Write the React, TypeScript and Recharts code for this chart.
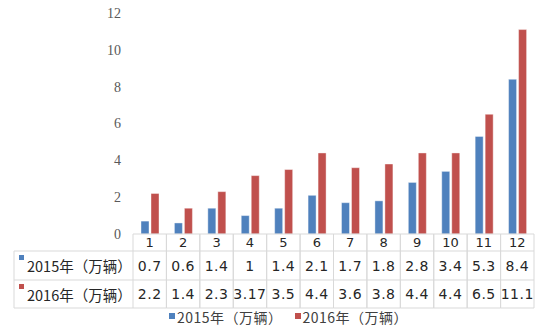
import { Bar, BarChart, Legend, XAxis, YAxis } from "recharts";

const MONTHS = ["1", "2", "3", "4", "5", "6", "7", "8", "9", "10", "11", "12"];
const SALES_2015 = [0.7, 0.6, 1.4, 1, 1.4, 2.1, 1.7, 1.8, 2.8, 3.4, 5.3, 8.4];
const SALES_2016 = [2.2, 1.4, 2.3, 3.17, 3.5, 4.4, 3.6, 3.8, 4.4, 4.4, 6.5, 11.1];
const Y_TICKS = [0, 2, 4, 6, 8, 10, 12];
const SERIES = [
  { key: "s2015", name: "2015年（万辆）", color: "#4F81BD", values: SALES_2015 },
  { key: "s2016", name: "2016年（万辆）", color: "#C0504D", values: SALES_2016 },
];

const W = 539;
const H = 326;
const PLOT_LEFT = 133;
const PLOT_RIGHT = 5;
const BAND = (W - PLOT_LEFT - PLOT_RIGHT) / MONTHS.length;
const TABLE_LEFT = 14;
const ROW_Y = [0, 17, 46, 74]; // row boundaries below the axis
const GRID = "#d9d9d9";
const TEXT = "#262626";
const TABLE_FONT = "'DejaVu Sans', sans-serif";
const CJK_FONT = "'Noto Sans CJK SC', 'DejaVu Sans', sans-serif";

const data = MONTHS.map((m, i) => ({
  month: m,
  s2015: SALES_2015[i],
  s2016: SALES_2016[i],
}));

function TableTick(props: any) {
  const { x, y, payload, index } = props;
  const left = x - BAND / 2;
  const right = x + BAND / 2;
  const bottom = y + ROW_Y[3];
  return (
    <g>
      <line x1={left} x2={left} y1={y} y2={bottom} stroke={GRID} />
      <line x1={right} x2={right} y1={y} y2={bottom} stroke={GRID} />
      {ROW_Y.slice(1).map((r) => (
        <line key={r} x1={left} x2={right} y1={y + r} y2={y + r} stroke={GRID} />
      ))}
      <text
        x={x}
        y={y + (ROW_Y[0] + ROW_Y[1]) / 2}
        textAnchor="middle"
        dominantBaseline="central"
        fontSize={13}
        fontFamily={TABLE_FONT}
        fill={TEXT}
      >
        {payload.value}
      </text>
      {SERIES.map((s, r) => (
        <text
          key={s.key}
          x={x}
          y={y + (ROW_Y[r + 1] + ROW_Y[r + 2]) / 2}
          textAnchor="middle"
          dominantBaseline="central"
          fontSize={14}
          letterSpacing={0.5}
          fontFamily={TABLE_FONT}
          fill={TEXT}
        >
          {s.values[index]}
        </text>
      ))}
      {index === 0 && (
        <g>
          <line x1={TABLE_LEFT} x2={left} y1={y + ROW_Y[1]} y2={y + ROW_Y[1]} stroke={GRID} />
          <line x1={TABLE_LEFT} x2={left} y1={y + ROW_Y[2]} y2={y + ROW_Y[2]} stroke={GRID} />
          <line x1={TABLE_LEFT} x2={left} y1={bottom} y2={bottom} stroke={GRID} />
          <line x1={TABLE_LEFT} x2={TABLE_LEFT} y1={y + ROW_Y[1]} y2={bottom} stroke={GRID} />
          {SERIES.map((s, r) => (
            <g key={s.key}>
              <rect x={TABLE_LEFT + 5} y={y + ROW_Y[r + 1] + 4} width={5} height={5} fill={s.color} />
              <text
                x={TABLE_LEFT + 13}
                y={y + (ROW_Y[r + 1] + ROW_Y[r + 2]) / 2}
                dominantBaseline="central"
                fontSize={14.5}
                fontFamily={CJK_FONT}
                fill={TEXT}
              >
                {s.name}
              </text>
            </g>
          ))}
        </g>
      )}
    </g>
  );
}

function LegendContent() {
  return (
    <div
      style={{
        display: "flex",
        justifyContent: "center",
        fontSize: 14,
        letterSpacing: 0.5,
        fontFamily: CJK_FONT,
        color: "#404040",
      }}
    >
      {SERIES.map((s) => (
        <div key={s.key} style={{ display: "flex", alignItems: "flex-start", marginRight: 12 }}>
          <span style={{ width: 6, height: 6, background: s.color, marginTop: 3, marginRight: 2 }} />
          <span style={{ lineHeight: "15px" }}>{s.name}</span>
        </div>
      ))}
    </div>
  );
}

export default function App() {
  return (
    <div style={{ position: "absolute", left: 0, top: 0, width: W, height: H, background: "#fff" }}>
      <BarChart
        width={W}
        height={H}
        data={data}
        margin={{ top: 13, right: PLOT_RIGHT, bottom: 0, left: 0 }}
        barSize={8}
        barGap={2}
      >
        <XAxis
          dataKey="month"
          height={H - 234}
          interval={0}
          tickLine={false}
          tickSize={0}
          tickMargin={0}
          axisLine={{ stroke: GRID }}
          tick={<TableTick />}
        />
        <YAxis
          width={PLOT_LEFT}
          domain={[0, 12]}
          ticks={Y_TICKS}
          axisLine={false}
          tickLine={false}
          tickSize={0}
          tickMargin={12}
          tick={{ fill: "#595959", fontSize: 14, fontFamily: "'Liberation Serif', serif" }}
        />
        <Legend
          verticalAlign="middle"
          align="center"
          layout="horizontal"
          wrapperStyle={{ top: 310, left: 25, width: W, height: 15 }}
          content={<LegendContent />}
        />
        {SERIES.map((s) => (
          <Bar
            key={s.key}
            dataKey={s.key}
            name={s.name}
            fill={s.color}
            stroke="#ffffff"
            strokeOpacity={0.4}
            isAnimationActive={false}
          />
        ))}
      </BarChart>
    </div>
  );
}
